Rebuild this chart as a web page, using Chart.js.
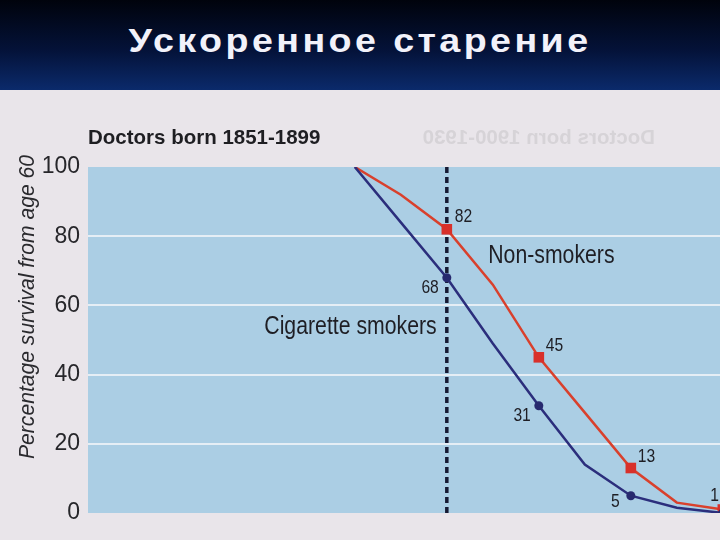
<!DOCTYPE html>
<html>
<head>
<meta charset="utf-8">
<script src="https://cdn.jsdelivr.net/npm/chart.js@4"></script>
<style>
  html, body { margin: 0; padding: 0; width: 720px; height: 540px; overflow: hidden; background: #e9e5ea; }
  #bar {
    position: absolute; left: 0; top: 0; width: 720px; height: 90px;
    background: linear-gradient(#00030c 0%, #041238 55%, #0b2a6b 100%);
    text-align: center; line-height: 94px;
  }
  #bar span {
    display: inline-block; color: #f2f2fa;
    font: bold 33px "Liberation Sans", Arial, sans-serif;
    letter-spacing: 3px; transform: scaleX(1.14);
  }
  #wrap { position: absolute; left: 0; top: 90px; width: 800px; height: 450px; }
</style>
</head>
<body>
<div id="bar"><span>Ускоренное старение</span></div>
<div id="wrap"><canvas id="chart"></canvas></div>
<script>
// ages (x) and survival from age 60, %
const ages = [60, 65, 70, 75, 80, 85, 90, 95, 100];
const nonSmokers = [100, 92, 82, 66, 45, 29, 13, 3, 1];
const smokers = [100, 84, 68, 49, 31, 14, 5, 1.5, 0];
const markedAges = [70, 80, 90, 100];
const yTicks = [0, 20, 40, 60, 80, 100];
const cutAge = 70;

const sans = "'Liberation Sans', Arial, sans-serif";

function pts(vals) {
    return ages.map((a, i) => ({ x: a, y: vals[i] }));
}
function radii(r) {
    return ages.map(a => markedAges.includes(a) ? r : 0);
}
// text squeezed sideways, the scan uses a condensed face
function txt(ctx, s, x, y, align, sx) {
    ctx.save();
    ctx.translate(x, y);
    ctx.scale(sx, 1);
    ctx.textAlign = align;
    ctx.fillText(s, 0, 0);
    ctx.restore();
}

// label offsets next to the marked points
const redLabels = { dx: [8, 7, 7, -4], dy: [-12, -11, -11, -14], align: ['left', 'left', 'left', 'right'] };
const blueLabels = { dx: [-8, -8, -11], dy: [10, 10, 6], align: ['right', 'right', 'right'] };

const decor = {
    id: 'decor',
    beforeDraw(chart) {
        const { ctx, chartArea: a } = chart;
        ctx.save();
        ctx.fillStyle = '#abcee4';
        ctx.fillRect(a.left, a.top, a.right - a.left, a.bottom - a.top);
        ctx.restore();
    },
    afterDraw(chart) {
        const { ctx, chartArea: a, scales } = chart;
        const x = scales.x, y = scales.y;
        ctx.save();
        ctx.textBaseline = 'middle';

        // chart title
        ctx.fillStyle = '#1e1e22';
        ctx.font = 'bold 20.5px ' + sans;
        txt(ctx, 'Doctors born 1851-1899', a.left, 48, 'left', 1);

        // show-through from the back of the page
        ctx.save();
        ctx.globalAlpha = 0.12;
        ctx.fillStyle = '#555';
        txt(ctx, 'Doctors born 1900-1930', 655, 48, 'left', -1);
        ctx.restore();

        // y axis title
        ctx.save();
        ctx.translate(28, (y.top + y.bottom) / 2 - 33);
        ctx.rotate(-Math.PI / 2);
        ctx.font = 'italic 22px ' + sans;
        ctx.fillStyle = '#2a2a2e';
        txt(ctx, 'Percentage survival from age 60', 0, 0, 'center', 0.96);
        ctx.restore();

        // value labels
        ctx.font = '18px ' + sans;
        ctx.fillStyle = '#1e1e24';
        markedAges.forEach((age, k) => {
            const i = ages.indexOf(age);
            if (k < redLabels.dx.length) {
                txt(ctx, String(nonSmokers[i]), x.getPixelForValue(age) + redLabels.dx[k],
                    y.getPixelForValue(nonSmokers[i]) + redLabels.dy[k], redLabels.align[k], 0.87);
            }
            if (k < blueLabels.dx.length) {
                txt(ctx, String(smokers[i]), x.getPixelForValue(age) + blueLabels.dx[k],
                    y.getPixelForValue(smokers[i]) + blueLabels.dy[k], blueLabels.align[k], 0.87);
            }
        });

        // series names
        ctx.font = '25px ' + sans;
        txt(ctx, 'Non-smokers', x.getPixelForValue(74.5), y.getPixelForValue(74.3), 'left', 0.85);
        txt(ctx, 'Cigarette smokers', x.getPixelForValue(68.9), y.getPixelForValue(53.8), 'right', 0.85);
        ctx.restore();
    }
};

new Chart(document.getElementById('chart'), {
    type: 'line',
    data: {
        datasets: [{
            label: 'age 70',
            data: [{ x: cutAge, y: 0 }, { x: cutAge, y: 100 }],
            borderColor: '#161a33',
            borderWidth: 3.5,
            borderDash: [6, 4],
            pointRadius: 0,
            order: 3
        }, {
            label: 'Non-smokers',
            data: pts(nonSmokers),
            borderColor: '#d9402c',
            backgroundColor: '#d8302a',
            borderWidth: 2.5,
            pointStyle: 'rect',
            pointRadius: radii(7.5),
            pointBorderWidth: 0,
            order: 2
        }, {
            label: 'Cigarette smokers',
            data: pts(smokers),
            borderColor: '#2b2e7c',
            backgroundColor: '#27296e',
            borderWidth: 2.5,
            pointStyle: 'circle',
            pointRadius: radii(4.5),
            pointBorderWidth: 0,
            order: 1
        }]
    },
    options: {
        responsive: true,
        maintainAspectRatio: false,
        animation: false,
        layout: { padding: { top: 77, bottom: 27, left: 0, right: 10 } },
        plugins: { legend: { display: false }, tooltip: { enabled: false } },
        scales: {
            x: { type: 'linear', min: 31, max: 107.3, display: false },
            y: {
                min: 0, max: 100,
                afterFit: s => { s.width = 88; },
                afterBuildTicks: s => { s.ticks = yTicks.map(v => ({ value: v })); },
                border: { display: false },
                grid: {
                    drawTicks: false,
                    lineWidth: 2,
                    color: c => (c.tick.value > 0 && c.tick.value < 100) ? '#e5eef5' : 'rgba(0,0,0,0)'
                },
                ticks: {
                    padding: 8,
                    color: '#26262a',
                    font: { family: sans, size: 23 }
                }
            }
        }
    },
    plugins: [decor]
});
</script>
</body>
</html>
